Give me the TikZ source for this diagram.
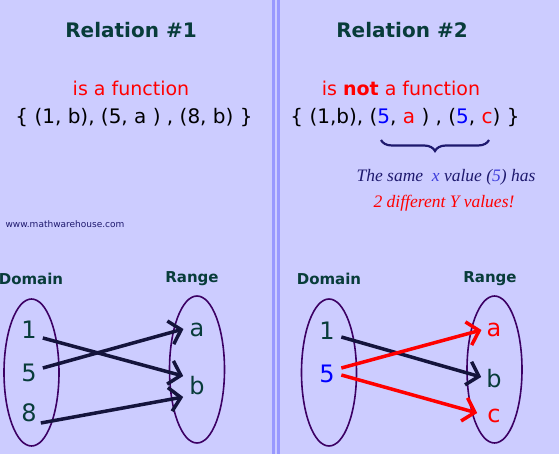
\documentclass[tikz,border=0pt]{standalone}
\usepackage{fontspec}
\setmainfont{DejaVu Sans}
\newfontfamily\notefont{Liberation Serif}
\usetikzlibrary{arrows.meta,shapes.geometric,decorations.pathreplacing}
\definecolor{MWbg}{RGB}{204,204,255}
\definecolor{MWbar}{RGB}{153,153,255}
\definecolor{MWteal}{RGB}{8,60,58}
\definecolor{MWred}{RGB}{255,0,0}
\definecolor{MWblue}{RGB}{0,0,255}
\definecolor{MWnavy}{RGB}{20,20,60}
\definecolor{MWpurple}{RGB}{60,0,100}
\definecolor{MWink}{RGB}{30,25,110}
\definecolor{MWsoftblue}{RGB}{60,60,220}
\tikzset{
  heading/.style={font=\fontsize{20}{24}\selectfont\bfseries,text=MWteal,inner sep=0pt},
  claim/.style={font=\fontsize{19}{23}\selectfont,text=MWred,inner sep=0pt},
  pairset/.style={font=\fontsize{20}{24}\selectfont,text=black,inner sep=0pt},
  setlbl/.style={font=\fontsize{15}{18}\selectfont\bfseries,text=MWteal,inner sep=0pt},
  elem/.style={font=\fontsize{24}{28}\selectfont,text=MWteal,inner sep=0pt},
  oval/.style={ellipse,draw=MWpurple,line width=1.6pt,minimum width=55pt,
               minimum height=147pt,inner sep=0pt},
  fl/.style={-{Straight Barb[length=11pt,width=24pt]},line width=3.5pt,draw=MWnavy},
  flr/.style={fl,draw=MWred},
  note/.style={font=\notefont\itshape\fontsize{17.5}{21}\selectfont,text=MWink,inner sep=0pt}
}

\begin{document}
\begin{tikzpicture}[x=1pt,y=-1pt]
  \fill[MWbg] (0,0) rectangle (559,454);
  \useasboundingbox (0,0) rectangle (559,454);
  \fill[MWbar] (272,0) rectangle (274.5,454);
  \fill[MWbar] (277,0) rectangle (279.5,454);

  % relation 1
  \node[heading] (head1) at (131,30) {Relation \#1};
  \node[claim] (claim1) at (131,88) {is a function};
  \node[pairset] (set1) at (134,118) {\{ (1, b), (5, a ) , (8, b) \}};
  \node[font=\fontsize{9}{11}\selectfont,text=MWink,inner sep=0pt] (site) at (65,224) {www.mathwarehouse.com};

  \node[setlbl] (dom1) at (31,279) {Domain};
  \node[setlbl] (ran1) at (192,279) {Range};
  \node[oval] (ovd1) at (31.5,372.5) {};
  \node[oval] (ovr1) at (197,369.5) {};
  \node[elem] (d1) at (29,330) {1};
  \node[elem] (d5) at (29,373) {5};
  \node[elem] (d8) at (29,413) {8};
  \node[elem] (ra) at (197,330) {a};
  \node[elem] (rb) at (197,386) {b};

  \draw[fl] ([shift={(6,8)}]d1.east) -- ([shift={(-6,-10)}]rb.west);
  \draw[fl] ([shift={(6,-5)}]d5.east) -- ([shift={(-6,-1)}]ra.west);
  \draw[fl] ([shift={(4,10)}]d8.east) -- ([shift={(-6,11)}]rb.west);

  % relation 2
  \node[heading] (head2) at (402,30) {Relation \#2};
  \node[claim] (claim2) at (401,88) {is \textbf{not} a function};
  \node[pairset] (set2) at (405,118) {\{ (1,b), (\textcolor{MWblue}{5}, \textcolor{MWred}{a} ) , (\textcolor{MWblue}{5}, \textcolor{MWred}{c}) \}};
  \draw[decorate,decoration={brace,mirror,amplitude=11pt},line width=2.2pt,draw=MWink]
    (381,140) -- (489,140);
  \node[note] (why1) at (446,177) {The same \ \textcolor{MWsoftblue}{x} value (\textcolor{MWsoftblue}{5}) has};
  \node[note,text=MWred] (why2) at (444,203) {2 different Y values!};

  \node[setlbl] (dom2) at (329,279) {Domain};
  \node[setlbl] (ran2) at (490,279) {Range};
  \node[oval] (ovd2) at (329,372.5) {};
  \node[oval] (ovr2) at (494.5,369.5) {};
  \node[elem] (e1) at (327,331) {1};
  \node[elem,text=MWblue] (e5) at (327,374) {5};
  \node[elem,text=MWred] (sa) at (494,330) {a};
  \node[elem] (sb) at (494,379) {b};
  \node[elem,text=MWred] (sc) at (494,416) {c};

  \draw[fl] ([shift={(6.5,6)}]e1.east) -- ([shift={(-5,-2)}]sb.west);
  \draw[flr] ([shift={(6.5,-6)}]e5.east) -- ([shift={(-5,0)}]sa.west);
  \draw[flr] ([shift={(6.5,1)}]e5.east) -- ([shift={(-10,-3)}]sc.west);
\end{tikzpicture}
\end{document}
